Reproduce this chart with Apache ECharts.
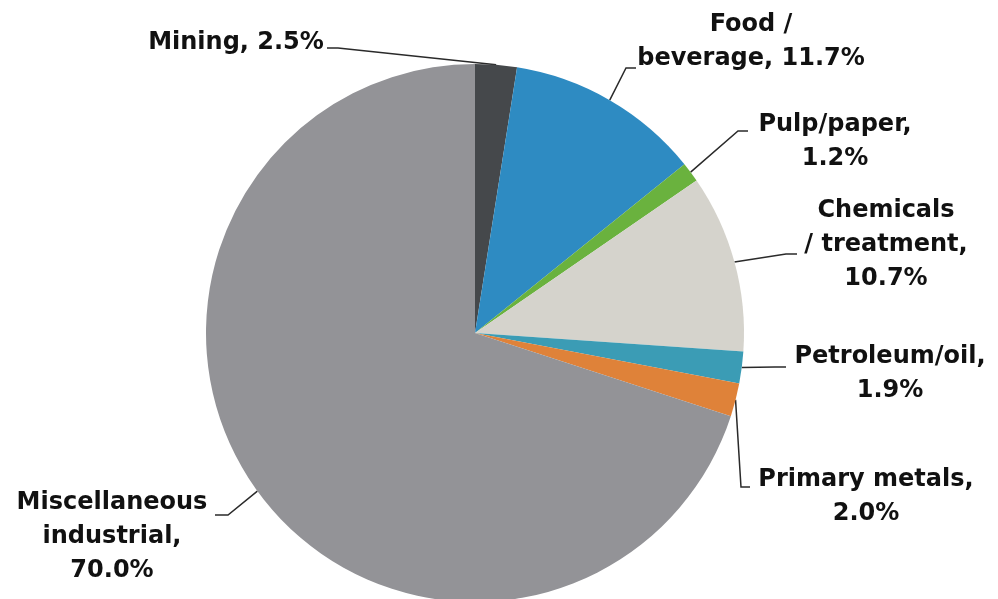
<!DOCTYPE html>
<html>
<head>
<meta charset="utf-8">
<script src="https://cdn.jsdelivr.net/npm/echarts@6/dist/echarts.min.js"></script>
<style>
  html, body { margin: 0; padding: 0; background: #fff; }
  #chart { width: 998px; height: 599px; }
</style>
</head>
<body>
<div id="chart"></div>
<script>
// Industrial sectors and their shares (%)
const categories = [
  'Mining',
  'Food /\nbeverage',
  'Pulp/paper',
  'Chemicals\n/ treatment',
  'Petroleum/oil',
  'Primary metals',
  'Miscellaneous\nindustrial'
];
const shares = [2.5, 11.7, 1.2, 10.7, 1.9, 2.0, 70.0];
// how the share is joined to the name in each label
const joiners = [', ', ', ', ',\n', ',\n', ',\n', ',\n', ',\n'];

const colors = ['#45484b', '#2e8bc2', '#6ab23e', '#d5d3cc', '#3b9cb5', '#df8239', '#939397'];

// label placement: text block centre, elbow point and end point of the leader line
const labelPlace = [
  { x: 236, y: 43,  elbow: [338, 48],  end: [327, 48] },
  { x: 751, y: 42,  elbow: [626, 68],  end: [636, 68] },
  { x: 835, y: 142, elbow: [738, 131], end: [748, 131] },
  { x: 886, y: 245, elbow: [786, 254], end: [797, 254] },
  { x: 890, y: 374, elbow: [775, 367], end: [786, 367] },
  { x: 866, y: 497, elbow: [741, 487], end: [750, 487] },
  { x: 112, y: 537, elbow: [228, 515], end: [215, 515] }
];

const data = categories.map((name, i) => ({
  name: name,
  value: shares[i],
  itemStyle: { color: colors[i] }
}));

const chart = echarts.init(document.getElementById('chart'));
chart.setOption({
  backgroundColor: '#ffffff',
  animation: false,
  series: [{
    type: 'pie',
    center: [475, 333],
    radius: [0, 269],
    startAngle: 90,
    clockwise: true,
    data: data,
    itemStyle: { borderWidth: 0 },
    label: {
      show: true,
      position: 'outside',
      formatter: p => p.name + joiners[p.dataIndex] + p.value.toFixed(1) + '%',
      fontFamily: 'DejaVu Sans',
      fontWeight: 'bold',
      fontSize: 24,
      lineHeight: 34,
      color: '#111111',
      align: 'center'
    },
    labelLine: {
      show: true,
      length: 0,
      length2: 0,
      smooth: false,
      lineStyle: { color: '#2a2a2a', width: 1.5 }
    },
    labelLayout: function (params) {
      const place = labelPlace[params.dataIndex];
      const start = params.labelLinePoints ? params.labelLinePoints[0] : place.elbow;
      return {
        x: place.x,
        y: place.y,
        align: 'center',
        verticalAlign: 'middle',
        labelLinePoints: [start, place.elbow, place.end]
      };
    }
  }]
});
</script>
</body>
</html>
